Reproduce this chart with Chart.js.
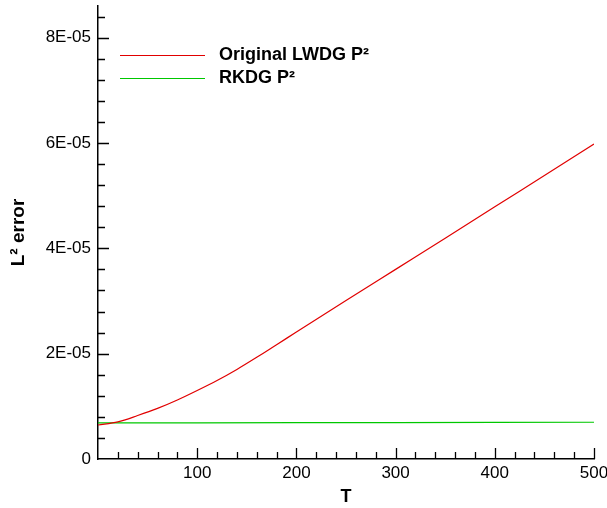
<!DOCTYPE html>
<html>
<head>
<meta charset="utf-8">
<script src="https://cdn.jsdelivr.net/npm/chart.js@4/dist/chart.umd.min.js"></script>
<style>
    html, body { margin: 0; padding: 0; background: #fff; }
    #wrap { width: 607px; height: 508px; }
</style>
</head>
<body>
<div id="wrap"><canvas id="errChart"></canvas></div>
<script>
// Time values and L2 errors
const lwdgT = [0, 20, 40, 60, 80, 100, 120, 140, 160, 180, 200, 250, 300, 350, 400, 450, 500];
const lwdgError = [6.45e-6, 7.05e-6, 8.25e-6, 9.6e-6, 1.12e-5, 1.30e-5, 1.49e-5, 1.70e-5, 1.93e-5,
    2.17e-5, 2.41e-5, 3.01e-5, 3.60e-5, 4.19e-5, 4.79e-5, 5.38e-5, 5.98e-5];
const rkdgT = [0, 100, 200, 300, 400, 500];
const rkdgError = [6.84e-6, 6.86e-6, 6.89e-6, 6.92e-6, 6.95e-6, 6.98e-6];

const xTicks = [100, 200, 300, 400, 500];
const yTicks = [0, 2e-5, 4e-5, 6e-5, 8e-5];
const xMinorStep = 20;
const yMinorStep = 0.4e-5;

const FONT = '"Liberation Sans", Arial, Helvetica, sans-serif';

function toPoints(xs, ys) {
    return xs.map((x, i) => ({ x: x, y: ys[i] }));
}

function fmtY(v) {
    if (v === 0) return '0';
    const exp = Math.floor(Math.log10(Math.abs(v)) + 1e-9);
    const mant = Math.round(v / Math.pow(10, exp));
    return mant + 'E-' + String(-exp).padStart(2, '0');
}

// inward major/minor tick marks like the original plot
const tickMarks = {
    id: 'tickMarks',
    afterDraw(chart) {
        const ctx = chart.ctx;
        const xs = chart.scales.x;
        const ys = chart.scales.y;
        const area = chart.chartArea;
        ctx.save();
        ctx.strokeStyle = '#000';
        ctx.lineWidth = 1.3;
        ctx.beginPath();
        for (let v = xMinorStep; v <= xs.max + 1e-9; v += xMinorStep) {
            const px = Math.round(xs.getPixelForValue(v)) + 0.5;
            const len = xTicks.some(t => Math.abs(t - v) < 1e-6) ? 11 : 7;
            ctx.moveTo(px, area.bottom);
            ctx.lineTo(px, area.bottom - len);
        }
        for (let v = yMinorStep; v <= ys.max + 1e-12; v += yMinorStep) {
            const py = Math.round(ys.getPixelForValue(v)) + 0.5;
            const len = yTicks.some(t => Math.abs(t - v) < 1e-9) ? 11 : 7;
            ctx.moveTo(area.left, py);
            ctx.lineTo(area.left + len, py);
        }
        ctx.stroke();
        ctx.restore();
    }
};

// legend in the upper left of the plot
const lineLegend = {
    id: 'lineLegend',
    afterDraw(chart) {
        const ctx = chart.ctx;
        const rows = [55.5, 78.5];
        ctx.save();
        chart.data.datasets.forEach((ds, i) => {
            const y = rows[i];
            ctx.strokeStyle = ds.borderColor;
            ctx.lineWidth = 1.2;
            ctx.beginPath();
            ctx.moveTo(120, y);
            ctx.lineTo(205, y);
            ctx.stroke();
            ctx.fillStyle = '#000';
            ctx.font = 'bold 18px ' + FONT;
            ctx.textBaseline = 'middle';
            ctx.textAlign = 'left';
            ctx.fillText(ds.label, 219, y);
        });
        ctx.restore();
    }
};

new Chart(document.getElementById('errChart'), {
    type: 'line',
    data: {
        datasets: [
            {
                label: 'Original LWDG P\u00b2',
                data: toPoints(lwdgT, lwdgError),
                borderColor: 'rgb(225, 0, 0)',
                borderWidth: 1.2,
                pointRadius: 0,
                cubicInterpolationMode: 'monotone',
                fill: false
            },
            {
                label: 'RKDG P\u00b2',
                data: toPoints(rkdgT, rkdgError),
                borderColor: 'rgb(0, 200, 0)',
                borderWidth: 1.2,
                pointRadius: 0,
                fill: false
            }
        ]
    },
    options: {
        responsive: true,
        maintainAspectRatio: false,
        animation: false,
        layout: { padding: { top: 6, right: 13, left: 0, bottom: 0 } },
        plugins: {
            legend: { display: false },
            tooltip: { enabled: false }
        },
        scales: {
            x: {
                type: 'linear',
                min: 0,
                max: 500,
                grid: { display: false, drawTicks: false, tickLength: 0 },
                border: { display: true, color: '#000', width: 1.5 },
                afterBuildTicks: scale => { scale.ticks = xTicks.map(v => ({ value: v })); },
                afterFit: scale => {
                    scale.height = 49;
                    scale.paddingLeft = 0;
                    scale.paddingRight = 0;
                },
                ticks: {
                    color: '#000',
                    padding: 4,
                    maxRotation: 0,
                    font: { family: FONT, size: 17 }
                },
                title: {
                    display: true,
                    text: 'T',
                    color: '#000',
                    padding: { top: 0, bottom: 0 },
                    font: { family: FONT, size: 18, weight: 'bold' }
                }
            },
            y: {
                type: 'linear',
                min: 0,
                max: 8.6e-5,
                grid: { display: false, drawTicks: false, tickLength: 0 },
                border: { display: true, color: '#000', width: 1.5 },
                afterBuildTicks: scale => { scale.ticks = yTicks.map(v => ({ value: v })); },
                afterFit: scale => {
                    scale.width = 98;
                    scale.paddingTop = 0;
                    scale.paddingBottom = 0;
                },
                ticks: {
                    color: '#000',
                    padding: 7,
                    font: { family: FONT, size: 17 },
                    callback: v => fmtY(v)
                },
                title: {
                    display: true,
                    text: 'L\u00b2 error',
                    color: '#000',
                    padding: { top: 7, bottom: 0 },
                    font: { family: FONT, size: 19, weight: 'bold' }
                }
            }
        }
    },
    plugins: [tickMarks, lineLegend]
});
</script>
</body>
</html>
